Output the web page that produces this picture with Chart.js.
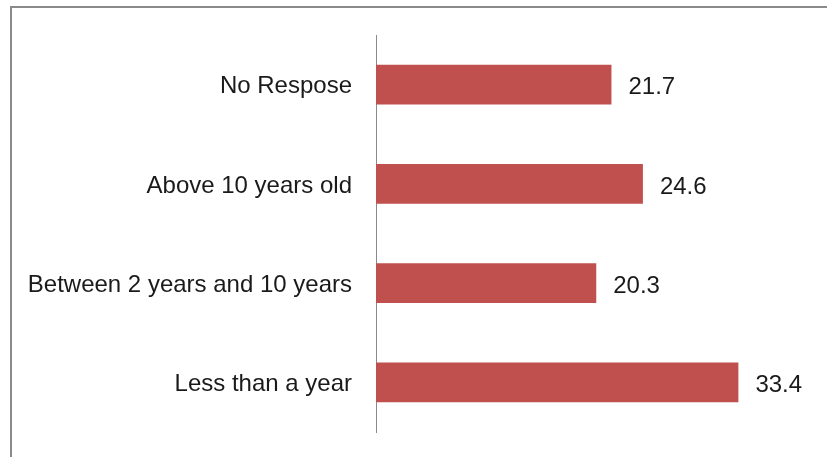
<!DOCTYPE html>
<html>
<head>
<meta charset="utf-8">
<script src="https://cdn.jsdelivr.net/npm/chart.js@4"></script>
<style>
  html, body { margin: 0; padding: 0; background: #fff; }
  #wrap { width: 827px; height: 457px; position: relative; }
</style>
</head>
<body>
<div id="wrap"><canvas id="chart"></canvas></div>
<script>
const categories = ['No Respose', 'Above 10 years old', 'Between 2 years and 10 years', 'Less than a year'];
const values = [21.7, 24.6, 20.3, 33.4];
const axisMax = 40;

const labelFont = { family: 'Liberation Sans', size: 24 };

// grey frame round the chart (cut off at right and bottom in the original)
const framePlugin = {
    id: 'frame',
    beforeDraw(chart) {
        const ctx = chart.ctx;
        ctx.save();
        ctx.fillStyle = '#fff';
        ctx.fillRect(0, 0, chart.width, chart.height);
        ctx.strokeStyle = '#8a8a8a';
        ctx.lineWidth = 2;
        ctx.beginPath();
        ctx.moveTo(11, chart.height);
        ctx.lineTo(11, 7);
        ctx.lineTo(chart.width, 7);
        ctx.stroke();
        ctx.restore();
    }
};

// value labels just right of each bar
const valueLabels = {
    id: 'valueLabels',
    afterDatasetsDraw(chart) {
        const ctx = chart.ctx;
        const meta = chart.getDatasetMeta(0);
        ctx.save();
        ctx.font = labelFont.size + 'px ' + labelFont.family;
        ctx.fillStyle = '#1a1a1a';
        ctx.textAlign = 'left';
        ctx.textBaseline = 'middle';
        meta.data.forEach((bar, i) => {
            ctx.fillText(values[i].toFixed(1), bar.x + 17, bar.y + 3);
        });
        ctx.restore();
    }
};

new Chart(document.getElementById('chart'), {
    type: 'bar',
    data: {
        labels: categories,
        datasets: [{
            data: values,
            backgroundColor: '#C0504D',
            borderWidth: 0,
            categoryPercentage: 1,
            barPercentage: 0.4
        }]
    },
    options: {
        indexAxis: 'y',
        responsive: true,
        maintainAspectRatio: false,
        animation: false,
        layout: { padding: { left: 0, right: 17, top: 35, bottom: 25 } },
        plugins: {
            legend: { display: false },
            tooltip: { enabled: false }
        },
        scales: {
            x: {
                display: false,
                min: 0,
                max: axisMax
            },
            y: {
                grid: { display: false },
                border: { display: true, color: '#8a8a8a', width: 1 },
                ticks: {
                    color: '#1a1a1a',
                    font: labelFont,
                    padding: 16,
                    labelOffset: 2
                },
                afterFit(scale) {
                    scale.width = 376;
                    scale.paddingTop = 0;
                    scale.paddingBottom = 0;
                }
            }
        }
    },
    plugins: [framePlugin, valueLabels]
});
</script>
</body>
</html>
